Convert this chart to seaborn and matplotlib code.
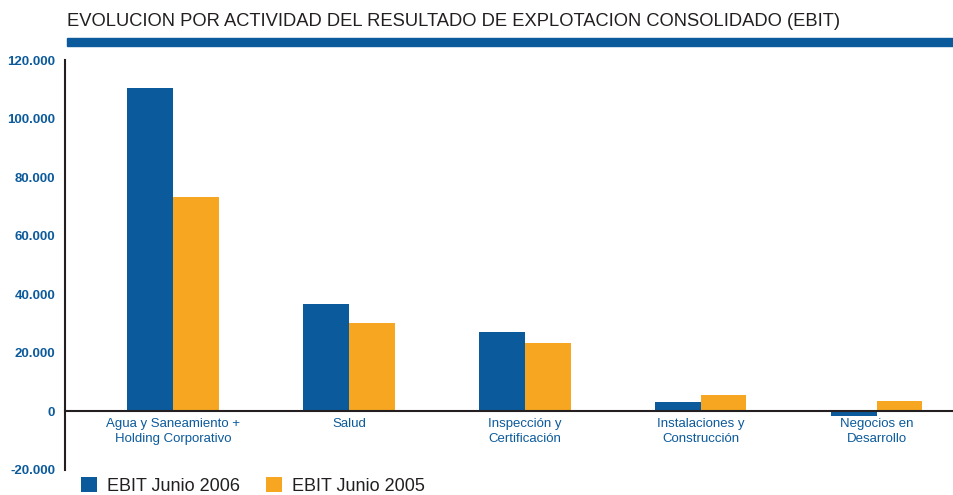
import matplotlib
matplotlib.use("Agg")
import matplotlib.pyplot as plt
from matplotlib.patches import Patch, Rectangle
from matplotlib.ticker import FuncFormatter, FixedLocator
import seaborn as sns
import pandas as pd

# data (thousands of euros)
categories = ["Agua y Saneamiento +\nHolding Corporativo", "Salud",
              "Inspección y\nCertificación", "Instalaciones y\nConstrucción",
              "Negocios en\nDesarrollo"]
series_names = ["EBIT Junio 2006", "EBIT Junio 2005"]
ebit_2006 = [110400, 36600, 27000, 3100, -1400]
ebit_2005 = [73200, 30100, 23200, 5500, 3400]
y_ticks = [-20000, 0, 20000, 40000, 60000, 80000, 100000, 120000]

BLUE = "#0B5A9B"
ORANGE = "#F6A620"
DARK = "#231F20"

df = pd.DataFrame({
    "Actividad": categories * 2,
    "Serie": [series_names[0]] * len(categories) + [series_names[1]] * len(categories),
    "EBIT": ebit_2006 + ebit_2005,
})

sns.set_style("white")
plt.rcParams["font.family"] = ["Liberation Sans", "DejaVu Sans"]

fig = plt.figure(figsize=(9.54, 4.95), dpi=100)
ax = fig.add_axes([65 / 954, 1 - 470 / 495, 1 - 65 / 954, (470 - 60) / 495])

sns.barplot(data=df, x="Actividad", y="EBIT", hue="Serie", order=categories,
            hue_order=series_names, palette=[BLUE, ORANGE], width=0.52,
            gap=0, saturation=1, legend=False, linewidth=0, ax=ax)

ax.set_xlim(-0.614, 4.44)
ax.set_ylim(-20000, 120000)
ax.set_xlabel("")
ax.set_ylabel("")

# spines
for s in ["top", "right"]:
    ax.spines[s].set_visible(False)
ax.spines["bottom"].set_position(("data", 0))
ax.spines["bottom"].set_color(DARK)
ax.spines["bottom"].set_linewidth(1.5)
ax.spines["left"].set_color(DARK)
ax.spines["left"].set_linewidth(1.5)

# y axis
ax.yaxis.set_major_locator(FixedLocator(y_ticks))
ax.yaxis.set_major_formatter(FuncFormatter(lambda v, p: f"{int(v):,}".replace(",", ".")))
ax.tick_params(axis="y", direction="out", length=4, width=1.5, color=DARK,
               labelcolor=BLUE, labelsize=9.5, pad=3)
for lab in ax.get_yticklabels():
    lab.set_fontweight("bold")

# x axis: labels at centers, small ticks between categories
ax.set_xticks(range(len(categories)))
ax.set_xticklabels(categories, color=BLUE, fontsize=9.5, linespacing=1.3)
ax.tick_params(axis="x", which="major", length=0, pad=5)
ax.set_xticks([0.5, 1.5, 2.5, 3.5], minor=True)
ax.tick_params(axis="x", which="minor", direction="out", length=4, width=1.5, color=DARK)

# title and blue band
fig.text(67 / 954, 1 - 22 / 495, "EVOLUCION POR ACTIVIDAD DEL RESULTADO DE EXPLOTACION CONSOLIDADO (EBIT)",
         fontsize=13.2, color=DARK, va="center", ha="left")
fig.patches.append(Rectangle((67 / 954, 1 - 46 / 495), 1 - 67 / 954, 8 / 495,
                             transform=fig.transFigure, color=BLUE, zorder=3))

# legend
handles = [Patch(facecolor=BLUE, edgecolor="none"), Patch(facecolor=ORANGE, edgecolor="none")]
fig.legend(handles, series_names, loc="lower left", bbox_to_anchor=(0.068, -0.033),
           ncol=2, frameon=False, fontsize=13, handlelength=0.9, handleheight=0.9,
           handletextpad=0.55, columnspacing=1.4, labelcolor=DARK)

fig.savefig("out.png", dpi=100)
